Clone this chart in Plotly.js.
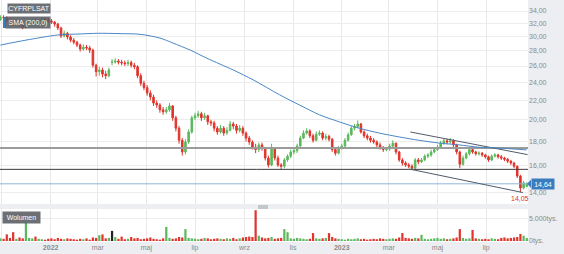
<!DOCTYPE html>
<html><head><meta charset="utf-8">
<script src="https://cdn.plot.ly/plotly-3.0.1.min.js"></script>
<style>html,body{margin:0;padding:0;background:#eceef1;}#chart{width:564px;height:254px;}</style>
</head><body><div id="chart"></div>
<script>
const dates = ['2021-10-30','2021-11-03','2021-11-07','2021-11-11','2021-11-15','2021-11-19','2021-11-23','2021-11-27','2021-12-01','2021-12-05',
'2021-12-09','2021-12-13','2021-12-17','2021-12-21','2021-12-25','2021-12-29','2022-01-02','2022-01-06','2022-01-10','2022-01-14',
'2022-01-18','2022-01-22','2022-01-26','2022-01-30','2022-02-03','2022-02-07','2022-02-11','2022-02-15','2022-02-19','2022-02-23',
'2022-02-27','2022-03-03','2022-03-07','2022-03-11','2022-03-15','2022-03-19','2022-03-23','2022-03-27','2022-03-31','2022-04-04',
'2022-04-08','2022-04-12','2022-04-16','2022-04-20','2022-04-24','2022-04-28','2022-05-02','2022-05-06','2022-05-10','2022-05-14',
'2022-05-18','2022-05-22','2022-05-26','2022-05-30','2022-06-03','2022-06-07','2022-06-11','2022-06-15','2022-06-19','2022-06-23',
'2022-06-27','2022-07-01','2022-07-05','2022-07-09','2022-07-13','2022-07-17','2022-07-21','2022-07-25','2022-07-29','2022-08-02',
'2022-08-06','2022-08-10','2022-08-14','2022-08-18','2022-08-22','2022-08-26','2022-08-30','2022-09-03','2022-09-07','2022-09-11',
'2022-09-15','2022-09-19','2022-09-23','2022-09-27','2022-10-01','2022-10-05','2022-10-09','2022-10-13','2022-10-17','2022-10-21',
'2022-10-25','2022-10-29','2022-11-02','2022-11-06','2022-11-10','2022-11-14','2022-11-18','2022-11-22','2022-11-26','2022-11-30',
'2022-12-04','2022-12-08','2022-12-12','2022-12-16','2022-12-20','2022-12-24','2022-12-28','2023-01-01','2023-01-05','2023-01-09',
'2023-01-13','2023-01-17','2023-01-21','2023-01-25','2023-01-29','2023-02-02','2023-02-06','2023-02-10','2023-02-14','2023-02-18',
'2023-02-22','2023-02-26','2023-03-02','2023-03-06','2023-03-10','2023-03-14','2023-03-18','2023-03-22','2023-03-26','2023-03-30',
'2023-04-03','2023-04-07','2023-04-11','2023-04-15','2023-04-19','2023-04-23','2023-04-27','2023-05-01','2023-05-05','2023-05-09',
'2023-05-13','2023-05-17','2023-05-21','2023-05-25','2023-05-29','2023-06-02','2023-06-06','2023-06-10','2023-06-14','2023-06-18',
'2023-06-22','2023-06-26','2023-06-30','2023-07-04','2023-07-08','2023-07-12','2023-07-16','2023-07-20','2023-07-24','2023-07-28',
'2023-08-01','2023-08-05','2023-08-09','2023-08-13','2023-08-17','2023-08-21'];

const opens = [32.6,33.0,32.9,32.5,32.2,31.9,32.2,31.8,31.4,31.9,
32.2,32.5,32.1,32.4,32.7,32.5,32.4,32.2,31.9,31.3,
30.1,30.5,29.95,29.5,29.2,28.8,28.25,28.5,28.4,28.1,
26.1,25.3,25.5,25.0,24.8,26.5,26.5,26.65,26.5,26.4,
26.3,26.45,26.1,25.9,24.8,23.9,23.4,22.8,22.35,21.7,
21.5,21.0,20.8,21.0,21.4,20.2,19.2,18.1,17.1,17.95,
18.85,20.2,20.4,20.6,20.2,20.4,19.8,19.7,19.2,18.85,
19.2,18.75,19.0,19.6,19.4,19.0,19.2,18.75,18.3,17.95,
17.5,17.3,17.7,17.4,16.6,16.05,17.4,16.6,16.05,15.95,
16.45,16.75,17.1,17.2,17.6,18.3,18.75,18.95,18.5,18.1,
18.65,18.75,18.3,18.45,18.2,17.3,17.0,17.45,17.6,18.1,
18.6,19.2,19.35,19.6,18.85,18.5,18.3,18.1,17.95,17.7,
17.45,17.3,17.35,17.6,17.85,17.1,16.45,16.2,16.05,15.95,
15.8,16.45,16.3,16.45,16.75,16.85,17.1,17.3,17.5,17.85,
18.05,17.95,18.05,17.7,17.1,16.1,16.6,16.95,17.3,17.1,
16.95,17.0,16.85,16.7,16.45,16.75,16.85,16.7,16.6,16.5,
16.35,16.2,15.95,15.2,14.35,14.45];

const highs = [33.3,33.3,33.1,32.8,32.5,32.5,32.4,32.0,32.2,32.5,
32.8,32.7,32.7,33.0,33.0,32.8,32.7,32.4,32.1,31.5,
30.9,30.7,30.2,29.8,29.4,29.0,28.9,28.8,28.7,28.3,
26.3,25.9,25.8,25.4,25.8,26.9,27.0,26.9,26.8,26.7,
26.8,26.7,26.4,26.1,25.1,24.2,23.7,23.1,22.6,22.0,
21.7,21.3,21.3,21.7,21.5,20.4,19.4,18.3,18.2,19.1,
20.4,20.7,20.9,20.8,20.7,20.5,20.0,19.9,19.4,19.5,
19.4,19.3,19.9,19.8,19.6,19.5,19.4,18.9,18.5,18.1,
17.8,17.9,17.9,17.5,16.8,17.8,17.5,16.8,16.2,16.6,
16.9,17.3,17.4,17.8,18.5,19.0,19.2,19.1,18.7,18.9,
19.0,18.9,18.7,18.6,18.3,17.5,17.6,17.8,18.3,18.8,
19.4,19.6,19.95,19.7,19.0,18.7,18.5,18.3,18.1,17.9,
17.6,17.5,17.8,18.1,17.9,17.2,16.6,16.35,16.2,16.1,
16.6,16.6,16.6,16.9,17.0,17.3,17.5,17.7,18.05,18.3,
18.25,18.3,18.2,17.8,17.2,16.8,17.1,17.5,17.45,17.2,
17.15,17.1,16.95,16.8,16.9,17.0,16.95,16.85,16.7,16.6,
16.45,16.3,16.0,15.3,14.85,14.75];

const lows = [32.4,32.6,32.2,31.9,31.6,31.7,31.5,31.1,31.2,31.7,
32.0,31.8,31.9,32.2,32.2,32.1,31.9,31.5,31.0,29.8,
29.9,29.6,29.2,28.9,28.5,27.9,28.0,28.1,27.7,25.8,
24.7,24.8,24.6,24.4,24.6,26.1,26.3,26.2,26.1,26.0,
26.0,25.8,25.6,24.5,23.6,23.1,22.5,22.0,21.4,21.2,
20.7,20.5,20.6,20.8,19.9,18.9,17.8,16.8,16.9,17.8,
18.7,20.0,20.2,19.9,20.0,19.5,19.4,18.9,18.6,18.7,
18.5,18.6,18.9,19.1,18.7,18.8,18.5,18.0,17.7,17.3,
17.0,17.1,17.2,16.4,15.85,15.95,16.4,15.9,15.7,15.8,
16.3,16.6,16.9,17.0,17.5,18.2,18.6,18.3,17.9,18.0,
18.5,18.1,18.1,18.0,17.1,16.8,16.9,17.3,17.5,18.0,
18.5,19.0,19.2,18.7,18.3,18.1,17.9,17.8,17.5,17.3,
17.1,17.15,17.2,17.5,16.9,16.3,16.0,15.9,15.8,15.65,
15.7,16.1,16.2,16.35,16.6,16.7,17.0,17.2,17.4,17.7,
17.75,17.8,17.5,16.9,15.8,16.0,16.5,16.8,16.95,16.8,
16.8,16.7,16.55,16.3,16.35,16.65,16.55,16.45,16.35,16.2,
16.05,15.8,15.05,14.05,14.25,14.4];

const closes = [33.0,32.9,32.5,32.2,31.9,32.2,31.8,31.4,31.9,32.2,
32.5,32.1,32.4,32.7,32.5,32.4,32.2,31.9,31.3,30.1,
30.5,29.95,29.5,29.2,28.8,28.25,28.5,28.4,28.1,26.1,
25.3,25.5,25.0,24.8,25.5,26.5,26.65,26.5,26.4,26.3,
26.45,26.1,25.9,24.8,23.9,23.4,22.8,22.35,21.7,21.5,
21.0,20.8,21.0,21.4,20.2,19.2,18.1,17.1,17.95,18.85,
20.2,20.4,20.6,20.2,20.4,19.8,19.7,19.2,18.85,19.2,
18.75,19.0,19.6,19.4,19.0,19.2,18.75,18.3,17.95,17.5,
17.3,17.7,17.4,16.6,16.05,17.4,16.6,16.05,15.95,16.45,
16.75,17.1,17.2,17.6,18.3,18.75,18.95,18.5,18.1,18.65,
18.75,18.3,18.45,18.2,17.3,17.0,17.45,17.6,18.1,18.6,
19.2,19.35,19.6,18.85,18.5,18.3,18.1,17.95,17.7,17.45,
17.3,17.35,17.6,17.85,17.1,16.45,16.2,16.05,15.95,15.8,
16.45,16.3,16.45,16.75,16.85,17.1,17.3,17.5,17.85,18.05,
17.95,18.05,17.7,17.1,16.1,16.6,16.95,17.3,17.1,16.95,
17.0,16.85,16.7,16.45,16.75,16.85,16.7,16.6,16.5,16.35,
16.2,15.95,15.2,14.35,14.7,14.64];

const volumes = [600,500,1500,700,2000,500,800,600,4200,700,
600,1000,500,400,300,500,600,400,700,500,
400,600,500,400,300,500,400,600,300,800,
700,1300,1500,600,700,2300,900,500,1000,400,
500,900,600,700,400,500,600,800,500,400,
300,600,3200,700,500,600,900,800,2700,700,
600,500,400,500,700,600,400,500,600,500,
400,600,500,700,400,600,800,900,1000,900,
7000,1200,800,600,700,900,500,600,700,2700,
2000,600,500,700,600,500,400,500,1800,600,
500,600,700,1800,900,600,500,400,300,500,
400,500,600,400,500,300,400,500,400,600,
500,400,500,600,500,800,1800,700,600,500,
700,600,1400,500,400,500,600,700,500,600,
400,500,600,800,2700,700,500,600,2500,600,
500,400,500,400,600,500,400,700,800,600,
700,800,900,1600,1200,700];

const smaDates = ['2021-10-30','2021-12-01','2022-01-10','2022-02-07','2022-03-01','2022-03-29','2022-04-23','2022-05-18','2022-06-03','2022-06-25','2022-07-16','2022-08-18','2022-09-12','2022-10-15','2022-11-09','2022-12-04','2022-12-29','2023-01-23','2023-02-17','2023-03-14','2023-04-08','2023-05-03','2023-05-28','2023-06-22','2023-07-17','2023-08-21'];
const smaValues = [28.8,29.5,30.25,30.4,30.5,30.45,30.35,29.8,29.1,28.1,27.0,25.5,24.3,22.6,21.5,20.5,19.8,19.2,18.75,18.4,18.1,17.86,17.7,17.5,17.43,17.27];

const upperTrendDates = ['2023-03-28','2023-08-22'];
const upperTrendValues = [18.85,16.88];
const lowerTrendDates = ['2023-03-27','2023-08-16'];
const lowerTrendValues = [15.73,14.03];

const levelGray = 17.43;
const levelDark = 15.71;
const lastPrice = 14.64;
const minPrice = 14.05;
const minDate = '2023-08-13';

const priceTicks = [14,16,18,20,22,24,26,28,30,32,34];
const volTicks = [0,5000];
const volTickText = ['0tys.','5.000tys.'];
const xTickVals = ['2021-11-01','2022-01-01','2022-03-01','2022-05-01','2022-07-01','2022-09-01','2022-11-01','2023-01-01','2023-03-01','2023-05-01','2023-07-01'];
const xTickText = ['lis','<b>2022</b>','mar','maj','lip','wrz','lis','<b>2023</b>','mar','maj','lip'];

const fmt = v => v.toFixed(2).replace('.', ',');
const GREEN = '#5cb85c', RED = '#e0342c';
const xStart = '2021-10-29 12:00', xEnd = '2023-08-22 12:00';

const volColors = closes.map((c,i) => c > opens[i] ? GREEN : (c < opens[i] ? RED : '#222222'));

const traces = [
  {type:'scatter', mode:'lines', x:[xStart,xEnd], y:[levelGray,levelGray], line:{color:'#9b9b9b',width:2}, hoverinfo:'skip', xaxis:'x', yaxis:'y'},
  {type:'scatter', mode:'lines', x:[xStart,xEnd], y:[levelDark,levelDark], line:{color:'#3a3a3a',width:1}, hoverinfo:'skip', xaxis:'x', yaxis:'y'},
  {type:'scatter', mode:'lines', x:[xStart,xEnd], y:[lastPrice,lastPrice], line:{color:'#8fb5da',width:1}, hoverinfo:'skip', xaxis:'x', yaxis:'y'},
  {type:'scatter', mode:'lines', x:upperTrendDates, y:upperTrendValues, line:{color:'#4f5c6b',width:1}, hoverinfo:'skip', xaxis:'x', yaxis:'y'},
  {type:'scatter', mode:'lines', x:lowerTrendDates, y:lowerTrendValues, line:{color:'#4f5c6b',width:1}, hoverinfo:'skip', xaxis:'x', yaxis:'y'},
  {type:'candlestick', x:dates, open:opens, high:highs, low:lows, close:closes, xaxis:'x', yaxis:'y',
   increasing:{line:{color:GREEN,width:1}, fillcolor:GREEN},
   decreasing:{line:{color:RED,width:1}, fillcolor:RED},
   whiskerwidth:0, hoverinfo:'skip'},
  {type:'scatter', mode:'lines', x:smaDates, y:smaValues, line:{color:'#4a87c6',width:1, shape:'spline', smoothing:0.8}, hoverinfo:'skip', xaxis:'x', yaxis:'y'},
  {type:'bar', x:dates, y:volumes, marker:{color:volColors}, xaxis:'x', yaxis:'y2', hoverinfo:'skip'}
];

const W = 528, H = 254;
const mainDom = [1-204/254, 1];
const yRange = [1.1228, 1.5548];
const priceToPaper = p => mainDom[0] + (Math.log10(p)-yRange[0])/(yRange[1]-yRange[0])*(mainDom[1]-mainDom[0]);
const lastY = priceToPaper(lastPrice);

const boxStyle = {showarrow:false, xref:'paper', yref:'paper', bgcolor:'rgba(88,92,98,0.88)', font:{color:'#ffffff', size:7, family:'Liberation Sans, Arial, sans-serif'}, borderpad:0, xanchor:'center', yanchor:'middle'};

const layout = {
  width:564, height:254,
  margin:{l:0,r:36,t:0,b:0,pad:0},
  paper_bgcolor:'#eceef1', plot_bgcolor:'#ffffff',
  separators:',.',
  showlegend:false,
  font:{family:'Liberation Sans, Arial, sans-serif', size:7, color:'#8a8a8a'},
  bargap:0.3,
  xaxis:{type:'date', range:[xStart,xEnd], anchor:'y2', tickvals:xTickVals, ticktext:xTickText,
    showgrid:true, gridcolor:'#e8e8e8', zeroline:false, showline:false, ticks:'',
    tickfont:{size:7,color:'#8a8a8a'}, rangeslider:{visible:false}, fixedrange:true},
  yaxis:{type:'log', domain:mainDom, range:yRange, side:'right', anchor:'x',
    tickvals:priceTicks, ticktext:priceTicks.map(fmt), gridcolor:'#ececec', zeroline:false, showline:false, ticks:'',
    tickfont:{size:7,color:'#8a8a8a'}, fixedrange:true},
  yaxis2:{domain:[1-242/254, 1-209/254], range:[-230,7270], side:'right', anchor:'x',
    tickvals:volTicks, ticktext:volTickText, gridcolor:'#ececec', zeroline:false, showline:false, ticks:'',
    tickfont:{size:7,color:'#8a8a8a'}, fixedrange:true},
  shapes:[
    {type:'rect', xref:'paper', yref:'paper', x0:3/W, x1:6/W, y0:1-28/H, y1:1-17/H, fillcolor:'#3b7cc4', line:{width:0}},
    {type:'rect', xref:'paper', yref:'paper', x0:258/W, x1:268/W, y0:1-209/H, y1:1-205/H, fillcolor:'#c3c6cb', line:{width:0}},
    {type:'path', xref:'paper', yref:'paper', path:`M ${527/W} ${lastY} L ${531/W} ${lastY+4/H} L ${531/W} ${lastY-4/H} Z`, fillcolor:'#3b7cc0', line:{width:0}}
  ],
  annotations:[
    Object.assign({}, boxStyle, {text:'CYFRPLSAT', x:29/W, y:1-8.5/H, width:42, height:9}),
    Object.assign({}, boxStyle, {text:'SMA (200,0)', x:28/W, y:1-22.5/H, width:44, height:11}),
    Object.assign({}, boxStyle, {text:'Wolumen', x:21.5/W, y:1-217.5/H, width:37, height:11}),
    {text:fmt(lastPrice), showarrow:false, xref:'paper', yref:'paper', x:531/W, y:lastY, xanchor:'left', yanchor:'middle',
     bgcolor:'#3b7cc0', font:{color:'#ffffff', size:7}, borderpad:1, width:20, height:8},
    {text:fmt(minPrice), showarrow:false, xref:'x', yref:'y', x:minDate, y:Math.log10(minPrice), xanchor:'center', yanchor:'top', yshift:-1,
     font:{color:RED, size:7}}
  ]
};

Plotly.newPlot('chart', traces, layout, {staticPlot:true, displayModeBar:false});
</script>
</body></html>
